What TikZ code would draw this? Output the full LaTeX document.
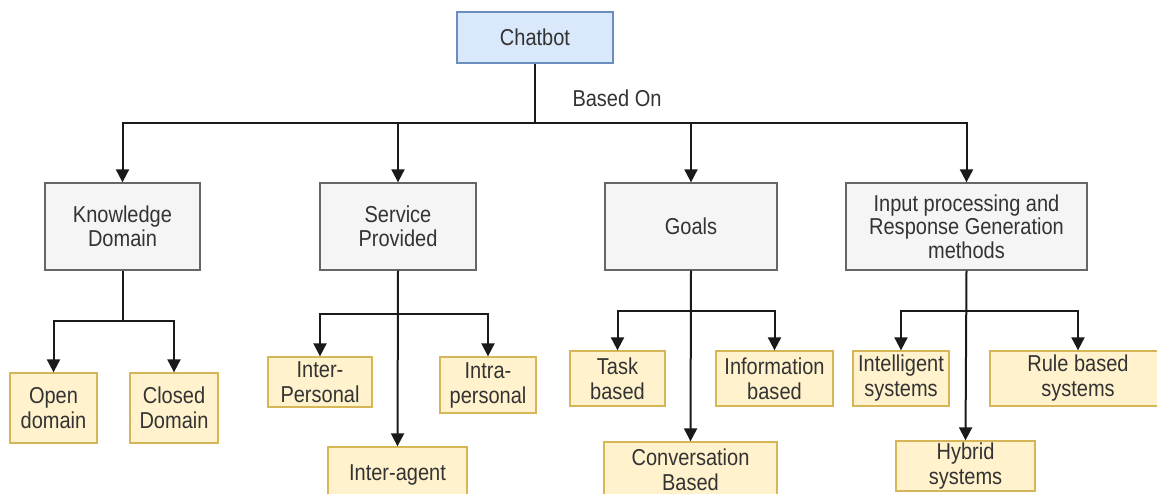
\documentclass[tikz,border=0pt]{standalone}
\usepackage{fontspec}
\setmainfont{Liberation Sans}[FakeStretch=0.87]
\usetikzlibrary{arrows.meta}
\definecolor{txt}{HTML}{333333}
\definecolor{bluefill}{HTML}{DAE8FC}
\definecolor{blueline}{HTML}{6C8EBF}
\definecolor{grayfill}{HTML}{F5F5F5}
\definecolor{grayline}{HTML}{666666}
\definecolor{yelfill}{HTML}{FFF2CC}
\definecolor{yelline}{HTML}{D6B656}
\definecolor{linec}{HTML}{1A1A1A}
\begin{document}
\begin{tikzpicture}[x=1pt,y=-1pt,
  base/.style={draw, align=center, inner sep=0pt, text=txt, line width=1.3pt,
    font=\fontsize{23}{23.5}\selectfont},
  topbox/.style={base, fill=bluefill, draw=blueline},
  catbox/.style={base, fill=grayfill, draw=grayline},
  leafbox/.style={base, fill=yelfill, draw=yelline, font=\fontsize{23}{25}\selectfont},
  conn/.style={draw=linec, line width=2pt},
  arr/.style={conn, -{Triangle[length=13pt,width=13pt]}},
  lbl/.style={text=txt, font=\fontsize{23}{23.5}\selectfont, inner sep=0pt}
]
\clip (0,0) rectangle (1157,494);
\fill[white] (0,0) rectangle (1157,494);

% top
\node[topbox, minimum width=156pt, minimum height=51pt] (chat) at (535,37.5) {Chatbot};
\node[lbl] (based) at (617,98) {Based On};

% level 1
\node[catbox, minimum width=155pt, minimum height=87pt] (kd) at (122.5,226.5) {Knowledge\\Domain};
\node[catbox, minimum width=156pt, minimum height=87pt] (sp) at (398,226.5) {Service\\Provided};
\node[catbox, minimum width=172pt, minimum height=87pt] (goals) at (691,226.5) {Goals};
\node[catbox, minimum width=241pt, minimum height=87pt] (inp) at (966.5,226.5) {Input processing and\\Response Generation\\methods};

% level 2
\node[leafbox, minimum width=87pt, minimum height=70pt] (open) at (53.5,408) {Open\\domain};
\node[leafbox, minimum width=88pt, minimum height=70pt] (closed) at (174,408) {Closed\\Domain};
\node[leafbox, minimum width=104pt, minimum height=50pt] (interp) at (320,382) {Inter-\\Personal};
\node[leafbox, minimum width=96pt, minimum height=56pt] (intrap) at (488,385) {Intra-\\personal};
\node[leafbox, minimum width=139pt, minimum height=56pt] (interag) at (397.5,475) {Inter-agent};
\node[leafbox, minimum width=95pt, minimum height=55pt] (task) at (617.5,378.5) {Task\\based};
\node[leafbox, minimum width=117pt, minimum height=55pt] (info) at (774.5,378.5) {Information\\based};
\node[leafbox, minimum width=173pt, minimum height=56pt] (conv) at (690.5,470) {Conversation\\Based};
\node[leafbox, minimum width=96pt, minimum height=55pt] (intel) at (901,378.5) {Intelligent\\systems};
\node[leafbox, minimum width=176pt, minimum height=55pt] (rule) at (1078,378.5) {Rule based\\systems};
\node[leafbox, minimum width=139pt, minimum height=50pt] (hybrid) at (965.5,466) {Hybrid\\systems};

% bus from chatbot
\coordinate (b0) at (535,123);
\draw[conn] (chat.south) -- (b0);
\draw[arr] (b0) -| (kd.north);
\draw[arr] (b0) -| (sp.north);
\draw[arr] (b0) -| (goals.north);
\draw[arr] (b0) -| (inp.north);

% knowledge domain
\coordinate (k0) at (122.5,321);
\draw[conn] (kd.south) -- (k0);
\draw[arr] (k0) -| (open.north);
\draw[arr] (k0) -| (closed.north);

% service provided
\coordinate (s0) at (398,314);
\draw[arr] (sp.south) -- (interag.north);
\draw[arr] (s0) -| (interp.north);
\draw[arr] (s0) -| (intrap.north);

% goals
\coordinate (g0) at (691,311);
\draw[arr] (goals.south) -- (conv.north);
\draw[arr] (g0) -| (task.north);
\draw[arr] (g0) -| (info.north);

% input processing
\coordinate (i0) at (966.5,311);
\draw[arr] (inp.south) -- (hybrid.north);
\draw[arr] (i0) -| (intel.north);
\draw[arr] (i0) -| (rule.north);
\end{tikzpicture}
\end{document}
